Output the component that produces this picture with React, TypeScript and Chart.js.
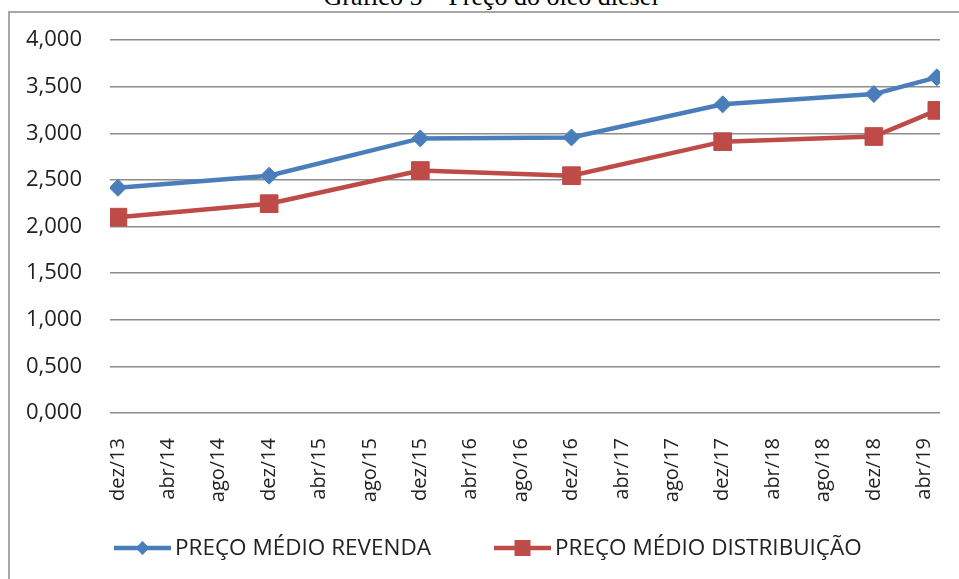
import React, { useEffect, useRef } from 'react';
import { Chart, registerables } from 'chart.js';

Chart.register(...registerables);

const titleText = 'Gráfico 5 – Preço do óleo diesel';
const MONTHS = ['jan', 'fev', 'mar', 'abr', 'mai', 'jun', 'jul', 'ago', 'set', 'out', 'nov', 'dez'];
const tickLabels = [
  'dez/13', 'abr/14', 'ago/14', 'dez/14', 'abr/15', 'ago/15', 'dez/15', 'abr/16', 'ago/16',
  'dez/16', 'abr/17', 'ago/17', 'dez/17', 'abr/18', 'ago/18', 'dez/18', 'abr/19',
];
const pointDates = ['dez/13', 'dez/14', 'dez/15', 'dez/16', 'dez/17', 'dez/18', 'mai/19'];
const revenda = [2.415, 2.545, 2.945, 2.955, 3.31, 3.42, 3.6];
const distribuicao = [2.1, 2.245, 2.6, 2.545, 2.91, 2.965, 3.245];
const seriesNames = ['PREÇO MÉDIO REVENDA', 'PREÇO MÉDIO DISTRIBUIÇÃO'];

const absMonth = (s: string) => {
  const [m, y] = s.split('/');
  return (2000 + Number(y)) * 12 + MONTHS.indexOf(m);
};
const ORIGIN = absMonth(tickLabels[0]);
const monthIndex = (s: string) => absMonth(s) - ORIGIN;

const FONT = '"Open Sans", "Liberation Sans", sans-serif';
const BLUE = '#4a7ebb';
const RED = '#be4b48';
const TEXT = '#222222';

const legendPlugin = {
  id: 'excelLegend',
  afterDraw(chart: any) {
    const ctx = chart.ctx;
    const y = 534;
    const starts = [103, 483];
    ctx.save();
    chart.data.datasets.forEach((ds: any, i: number) => {
      const x0 = starts[i];
      const len = 57;
      ctx.strokeStyle = ds.borderColor;
      ctx.lineWidth = ds.borderWidth;
      ctx.beginPath();
      ctx.moveTo(x0, y);
      ctx.lineTo(x0 + len, y);
      ctx.stroke();
      ctx.fillStyle = ds.pointBackgroundColor;
      const cx = x0 + len / 2;
      ctx.beginPath();
      if (ds.pointStyle === 'rectRot') {
        const r = 7;
        ctx.moveTo(cx, y - r);
        ctx.lineTo(cx + r, y);
        ctx.lineTo(cx, y + r);
        ctx.lineTo(cx - r, y);
        ctx.closePath();
      } else {
        const h = 8;
        ctx.rect(cx - h, y - h, 2 * h, 2 * h);
      }
      ctx.fill();
      ctx.fillStyle = TEXT;
      ctx.font = `22.5px ${FONT}`;
      ctx.textBaseline = 'middle';
      ctx.textAlign = 'left';
      ctx.fillText(ds.label, x0 + len + 4, y + 1);
    });
    ctx.restore();
  },
};

export default function App() {
  const ref = useRef<HTMLCanvasElement | null>(null);

  useEffect(() => {
    let chart: Chart | null = null;
    let cancelled = false;
    const build = () => {
      if (cancelled || !ref.current) return;
      chart = new Chart(ref.current, {
        type: 'line',
        data: {
          datasets: [
            {
              label: seriesNames[0],
              data: pointDates.map((d, i) => ({ x: monthIndex(d), y: revenda[i] })),
              borderColor: BLUE,
              backgroundColor: BLUE,
              pointBackgroundColor: BLUE,
              pointBorderColor: BLUE,
              borderWidth: 4.5,
              pointStyle: 'rectRot',
              pointRadius: 8.5,
              pointBorderWidth: 1,
              tension: 0,
            },
            {
              label: seriesNames[1],
              data: pointDates.map((d, i) => ({ x: monthIndex(d), y: distribuicao[i] })),
              borderColor: RED,
              backgroundColor: RED,
              pointBackgroundColor: RED,
              pointBorderColor: RED,
              borderWidth: 4.5,
              pointStyle: 'rect',
              pointRadius: 12.5,
              pointBorderWidth: 1,
              tension: 0,
            },
          ],
        },
        options: {
          responsive: false,
          animation: false,
          events: [],
          layout: { padding: { top: 26, right: 19, bottom: 0, left: 0 } },
          plugins: {
            legend: { display: false },
            tooltip: { enabled: false },
            title: { display: false },
          },
          scales: {
            x: {
              type: 'linear',
              min: -0.63,
              max: 65.25,
              grid: { display: false },
              border: { display: false },
              afterBuildTicks: (s: any) => {
                s.ticks = tickLabels.map((l) => ({ value: monthIndex(l) }));
              },
              afterFit: (s: any) => {
                s.height = 166;
                s.paddingLeft = 0;
                s.paddingRight = 0;
              },
              ticks: {
                autoSkip: false,
                maxRotation: 90,
                minRotation: 90,
                padding: 17,
                color: TEXT,
                font: { family: FONT, size: 20 },
                callback: (_v: any, i: number) => tickLabels[i],
              },
            },
            y: {
              min: 0,
              max: 4,
              afterFit: (s: any) => {
                s.width = 99;
                s.paddingTop = 0;
                s.paddingBottom = 0;
              },
              grid: { color: '#8c8c8c', lineWidth: 1.5, drawTicks: false },
              border: { display: false },
              ticks: {
                stepSize: 0.5,
                padding: 28,
                crossAlign: 'near',
                color: TEXT,
                font: { family: FONT, size: 22 },
                callback: (v: any) => Number(v).toFixed(3).replace('.', ','),
              },
            },
          },
        },
        plugins: [legendPlugin],
      } as any);
    };
    const fonts: any = (document as any).fonts;
    if (fonts && fonts.load) {
      Promise.all([fonts.load(`20px "Open Sans"`), fonts.load(`22px "Liberation Serif"`)])
        .catch(() => null)
        .then(build);
    } else {
      build();
    }
    return () => {
      cancelled = true;
      if (chart) chart.destroy();
    };
  }, []);

  return (
    <div
      style={{
        position: 'absolute',
        left: 0,
        top: 0,
        width: 959,
        height: 579,
        overflow: 'hidden',
        background: '#ffffff',
      }}
    >
      <div
        style={{
          position: 'absolute',
          left: 0,
          width: 982,
          top: -16,
          textAlign: 'center',
          fontFamily: '"Liberation Serif", "Times New Roman", serif',
          fontSize: 26,
          lineHeight: '26px',
          color: '#000',
          whiteSpace: 'nowrap',
        }}
      >
        {titleText}
      </div>
      <div
        style={{
          position: 'absolute',
          left: 8,
          top: 11,
          width: 1000,
          height: 620,
          border: '2px solid #a6a6a6',
          boxSizing: 'border-box',
        }}
      />
      <canvas
        ref={ref}
        width={948}
        height={565}
        style={{ position: 'absolute', left: 11, top: 14, display: 'block' }}
      />
    </div>
  );
}
